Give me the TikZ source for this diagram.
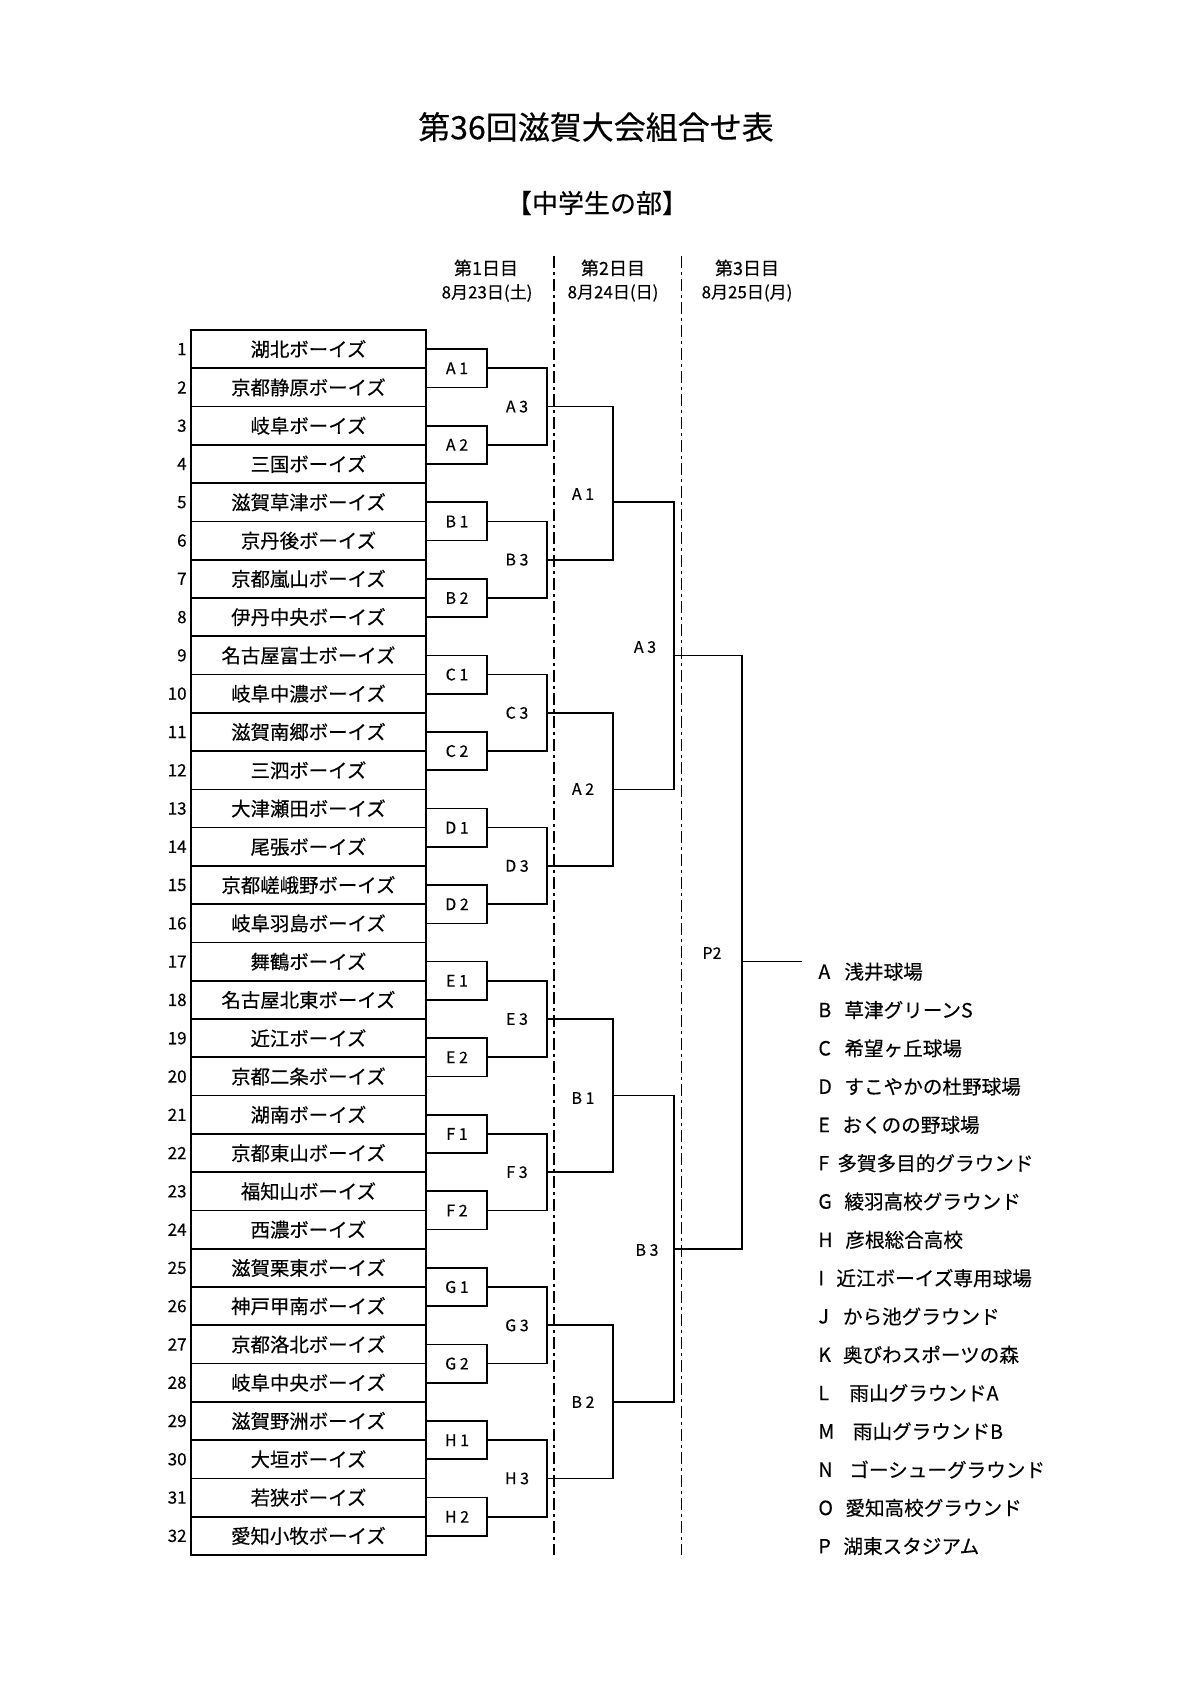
\documentclass[tikz,border=0pt]{standalone}
\usepackage{fontspec}
\setmainfont{Noto Sans CJK JP}[FakeBold=0.35]
\begin{document}
\begin{tikzpicture}[x=0.5pt,y=-0.5pt,
  line/.style={line width=0.85pt},
  dayline/.style={line width=0.75pt, dash pattern=on 6pt off 2pt on 1.5pt off 2pt},
  teambox/.style={draw, line width=0.85pt, rectangle, minimum width=117.5pt, minimum height=19.14pt, inner sep=0pt, outer sep=0pt, font=\fontsize{9.7}{11}\selectfont},
  num/.style={anchor=east, inner sep=0pt, font=\fontsize{8.5}{10}\selectfont},
  mlabel/.style={inner sep=0pt, font=\fontsize{8}{9}\selectfont},
  head/.style={inner sep=0pt, font=\fontsize{9}{10}\selectfont},
  date/.style={inner sep=0pt, font=\fontsize{8.5}{10}\selectfont},
  legend/.style={anchor=west, inner sep=0pt, font=\fontsize{9.8}{12}\selectfont}]
\useasboundingbox (0,0) rectangle (1203,1685);
% titles
\node[inner sep=0pt, font=\fontsize{16}{19}\selectfont] (title) at (596,127) {第36回滋賀大会組合せ表};
\node[inner sep=0pt, font=\fontsize{13}{15}\selectfont] (sub) at (597,203) {【中学生の部】};
% headers
\node[head] (h1) at (486,268) {第1日目};
\node[date] (h1d) at (487,293) {8月23日(土)};
\node[head] (h2) at (613,268) {第2日目};
\node[date] (h2d) at (613,293) {8月24日(日)};
\node[head] (h3) at (747,268) {第3日目};
\node[date] (h3d) at (747,293) {8月25日(月)};
% day separators
\coordinate (d1t) at (554,256); \coordinate (d1b) at (554,1555);
\coordinate (d2t) at (681.7,256); \coordinate (d2b) at (681.7,1555);
\draw[dayline] (d1t) -- (d1b);
\draw[dayline] (d2t) -- (d2b);
% teams
\foreach \n [count=\i] in {湖北ボーイズ,京都静原ボーイズ,岐阜ボーイズ,三国ボーイズ,滋賀草津ボーイズ,京丹後ボーイズ,京都嵐山ボーイズ,伊丹中央ボーイズ,名古屋富士ボーイズ,岐阜中濃ボーイズ,滋賀南郷ボーイズ,三泗ボーイズ,大津瀬田ボーイズ,尾張ボーイズ,京都嵯峨野ボーイズ,岐阜羽島ボーイズ,舞鶴ボーイズ,名古屋北東ボーイズ,近江ボーイズ,京都二条ボーイズ,湖南ボーイズ,京都東山ボーイズ,福知山ボーイズ,西濃ボーイズ,滋賀栗東ボーイズ,神戸甲南ボーイズ,京都洛北ボーイズ,岐阜中央ボーイズ,滋賀野洲ボーイズ,大垣ボーイズ,若狭ボーイズ,愛知小牧ボーイズ} {
  \pgfmathsetmacro\yc{330+(\i-0.5)*38.28}
  \node[teambox] (t\i) at (308.5,\yc) {\n};
  \node[num] (n\i) at (187,\yc) {\i};
}
% round 1
\foreach \L [count=\k] in {A 1,A 2,B 1,B 2,C 1,C 2,D 1,D 2,E 1,E 2,F 1,F 2,G 1,G 2,H 1,H 2} {
  \pgfmathtruncatemacro\a{2*\k-1}
  \pgfmathtruncatemacro\b{2*\k}
  \pgfmathsetmacro\m{330+(2*\k-1)*38.28}
  \coordinate (r1-\k) at (487,\m);
  \draw[line] (t\a.east) -| (r1-\k) |- (t\b.east);
  \node[mlabel] (l1-\k) at (457,\m) {\L};
}
% round 2
\foreach \L [count=\j] in {A 3,B 3,C 3,D 3,E 3,F 3,G 3,H 3} {
  \pgfmathtruncatemacro\a{2*\j-1}
  \pgfmathtruncatemacro\b{2*\j}
  \pgfmathsetmacro\m{330+(4*\j-2)*38.28}
  \coordinate (r2-\j) at (547,\m);
  \draw[line] (r1-\a) -| (r2-\j) |- (r1-\b);
  \node[mlabel] (l2-\j) at (517,\m) {\L};
}
% round 3 (day 2)
\foreach \q/\o/\ly/\L in {1/502.3/494/A 1, 2/789.4/789/A 2, 3/1095.6/1098/B 1, 4/1401.8/1402/B 2} {
  \pgfmathtruncatemacro\a{2*\q-1}
  \pgfmathtruncatemacro\b{2*\q}
  \coordinate (r3-\q) at (613,\o);
  \draw[line] (r2-\a) -| (r3-\q) |- (r2-\b);
  \node[mlabel] (l3-\q) at (583,\ly) {\L};
}
% round 4
\coordinate (r4-1) at (674,655.4);
\coordinate (r4-2) at (674,1248.7);
\draw[line] (r3-1) -| (r4-1) |- (r3-2);
\draw[line] (r3-3) -| (r4-2) |- (r3-4);
\node[mlabel] (l4-1) at (645,647) {A 3};
\node[mlabel] (l4-2) at (647,1250) {B 3};
% final
\coordinate (r5) at (742,961.6);
\coordinate (r5end) at (802,961.6);
\draw[line] (r4-1) -| (r5) |- (r4-2);
\draw[line] (r5) -- (r5end);
\node[mlabel] (l5) at (712,953) {P2};
% legend
\foreach \l/\xn/\t [count=\i from 0] in {A/844/浅井球場,B/844/草津グリーンS,C/844/希望ヶ丘球場,D/844/すこやかの杜野球場,E/842/おくのの野球場,F/837/多賀多目的グラウンド,G/844/綾羽高校グラウンド,H/845/彦根総合高校,I/836/近江ボーイズ専用球場,J/842.5/から池グラウンド,K/842.5/奥びわスポーツの森,L/849/雨山グラウンドA,M/852.5/雨山グラウンドB,N/849/ゴーシューグラウンド,O/845/愛知高校グラウンド,P/843/湖東スタジアム} {
  \pgfmathsetmacro\ly{971.7+\i*38.3}
  \node[legend] (gl\i) at (818,\ly) {\l};
  \node[legend] (gt\i) at (\xn,\ly) {\t};
}
\end{tikzpicture}
\end{document}
